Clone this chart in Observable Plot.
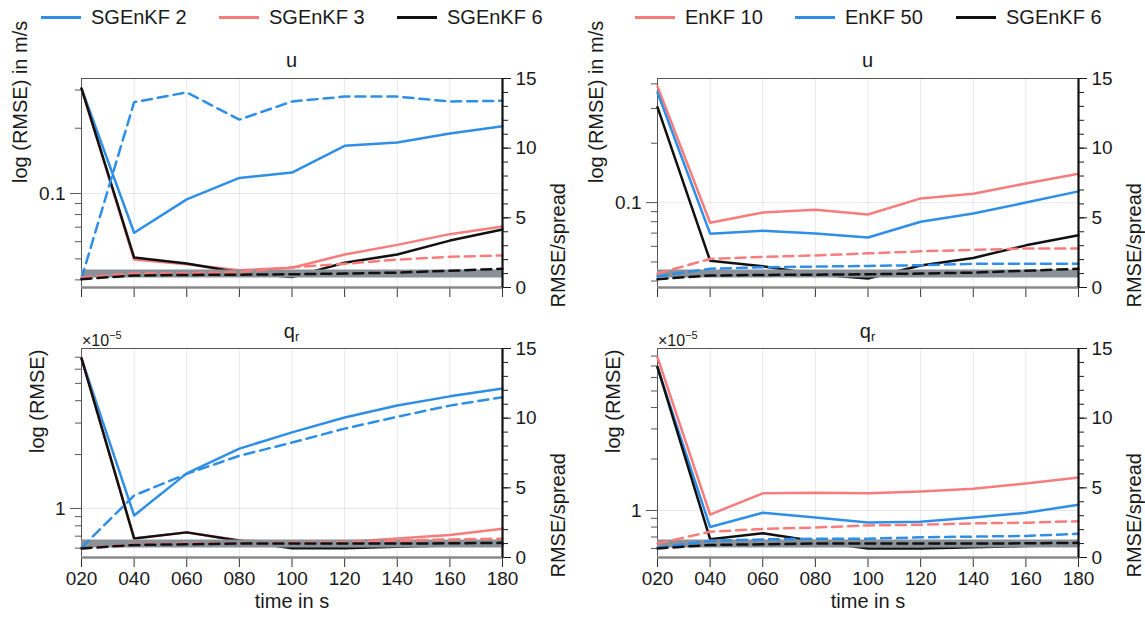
<!DOCTYPE html>
<html><head><meta charset="utf-8">
<script src="https://cdn.jsdelivr.net/npm/d3@7"></script>
<script src="https://cdn.jsdelivr.net/npm/@observablehq/plot@0.6"></script>
<style>
html,body{margin:0;padding:0;background:#fff;overflow:hidden}
#wrap{position:relative;width:1145px;height:621px;overflow:hidden;font-family:"Liberation Sans",Arial,Helvetica,sans-serif;color:#1a1a1a}
#wrap>svg{position:absolute;left:0;top:0}
.t{position:absolute;white-space:nowrap;line-height:24px}
.sw{position:absolute;height:3px}
</style></head><body><div id="wrap"></div>
<script>
// ---------- data ----------
const times = [20, 40, 60, 80, 100, 120, 140, 160, 180];
const timeLabels = ["020","040","060","080","100","120","140","160","180"];

// u : RMSE (m/s) and RMSE/spread
const uSG2rmse   = [0.305, 0.066, 0.094, 0.118, 0.125, 0.166, 0.172, 0.189, 0.204];
const uSG2ratio  = [0.65, 13.3, 14.0, 12.05, 13.35, 13.7, 13.7, 13.35, 13.4];
const uSG3rmse   = [0.305, 0.0496, 0.0472, 0.0443, 0.0455, 0.0524, 0.058, 0.065, 0.0705];
const uSG3ratio  = [0.72, 1.0, 1.03, 1.1, 1.45, 1.7, 2.0, 2.2, 2.3];
const uSG6rmse   = [0.305, 0.0507, 0.0476, 0.0433, 0.0412, 0.048, 0.0524, 0.0607, 0.0683];
const uSG6ratio  = [0.6, 0.86, 0.9, 0.92, 0.95, 1.0, 1.07, 1.2, 1.35];
const uEn10rmse  = [0.388, 0.079, 0.089, 0.092, 0.087, 0.105, 0.111, 0.125, 0.140];
const uEn10ratio = [1.0, 2.05, 2.2, 2.3, 2.45, 2.6, 2.7, 2.8, 2.8];
const uEn50rmse  = [0.362, 0.0696, 0.072, 0.0697, 0.0665, 0.080, 0.088, 0.100, 0.114];
const uEn50ratio = [0.8, 1.35, 1.45, 1.5, 1.55, 1.6, 1.7, 1.7, 1.7];

// q_r : RMSE (x 1e-5) and RMSE/spread
const qSG2rmse   = [6.89, 0.914, 1.57, 2.16, 2.66, 3.22, 3.76, 4.23, 4.68];
const qSG2ratio  = [0.7, 4.45, 6.0, 7.3, 8.25, 9.25, 10.1, 10.9, 11.5];
const qSG3rmse   = [6.95, 0.68, 0.735, 0.665, 0.64, 0.65, 0.68, 0.71, 0.77];
const qSG3ratio  = [0.65, 0.95, 1.0, 1.0, 1.05, 1.1, 1.2, 1.3, 1.35];
const qSG6rmse   = [6.9, 0.68, 0.735, 0.66, 0.6, 0.6, 0.61, 0.62, 0.63];
const qSG6ratio  = [0.65, 0.9, 0.95, 1.0, 1.0, 1.0, 1.0, 1.02, 1.05];
const qEn10rmse  = [7.85, 0.947, 1.26, 1.27, 1.26, 1.29, 1.34, 1.44, 1.56];
const qEn10ratio = [1.0, 1.85, 2.05, 2.15, 2.3, 2.35, 2.45, 2.5, 2.6];
const qEn50rmse  = [6.86, 0.80, 0.97, 0.91, 0.85, 0.86, 0.91, 0.97, 1.08];
const qEn50ratio = [0.7, 1.2, 1.3, 1.35, 1.35, 1.45, 1.5, 1.55, 1.7];

const ratioMajor = [0, 5, 10, 15];
const ratioMinor = d3.range(0, 16);
const uLogMinor = [0.04, 0.05, 0.06, 0.07, 0.08, 0.09, 0.2, 0.3, 0.4];
const qLogMinor = [0.6, 0.7, 0.8, 0.9, 2, 3, 4, 5, 6, 7, 8, 9];

// ---------- styling / layout ----------
const BLUE = "#2f8fe6", RED = "#f77d7d", BLACK = "#111111", GRAYBAND = "#8b9198";
const FONT = '"Liberation Sans", Arial, Helvetica, sans-serif';
const W = 1145, H = 621;

const panels = [
  {frame:[81, 78, 502, 287], domain:[0.0369, 0.339], minor:uLogMinor, major:0.1, majorLabel:"0.1",
   ylabel:"log (RMSE) in m/s", ylabelX:20, showX:false,
   series:[{r:uSG2rmse, s:uSG2ratio, c:BLUE},{r:uSG3rmse, s:uSG3ratio, c:RED},{r:uSG6rmse, s:uSG6ratio, c:BLACK}]},
  {frame:[657, 78, 1078, 287], domain:[0.0371, 0.426], minor:uLogMinor, major:0.1, majorLabel:"0.1",
   ylabel:"log (RMSE) in m/s", ylabelX:596, showX:false,
   series:[{r:uEn10rmse, s:uEn10ratio, c:RED},{r:uEn50rmse, s:uEn50ratio, c:BLUE},{r:uSG6rmse, s:uSG6ratio, c:BLACK}]},
  {frame:[81, 348, 502, 557], domain:[0.532, 7.83], minor:qLogMinor, major:1, majorLabel:"1",
   ylabel:"log (RMSE)", ylabelX:37, showX:true,
   series:[{r:qSG2rmse, s:qSG2ratio, c:BLUE},{r:qSG3rmse, s:qSG3ratio, c:RED},{r:qSG6rmse, s:qSG6ratio, c:BLACK}]},
  {frame:[657, 348, 1078, 557], domain:[0.531, 8.86], minor:qLogMinor, major:1, majorLabel:"1",
   ylabel:"log (RMSE)", ylabelX:613, showX:true,
   series:[{r:qEn10rmse, s:qEn10ratio, c:RED},{r:qEn50rmse, s:qEn50ratio, c:BLUE},{r:qSG6rmse, s:qSG6ratio, c:BLACK}]}
];

const wrap = document.getElementById("wrap");

function common(p) {
  const [L, T, R, B] = p.frame;
  return {width: W, height: H, marginLeft: L, marginTop: T, marginRight: W - R, marginBottom: H - B,
    style: {background: "transparent", fontFamily: FONT, fontSize: "19px", color: "#1a1a1a", overflow: "visible"}};
}

for (const p of panels) {
  const [L, T, R, B] = p.frame;
  const dom = p.domain;
  const minor = p.minor.filter(v => v > dom[0] && v < dom[1]);
  // log RMSE plot (left axis, solid lines)
  const logPlot = Plot.plot({
    ...common(p),
    x: {domain: [20, 180]},
    y: {type: "log", domain: dom},
    marks: [
      Plot.gridX(times, {stroke: "#000", strokeOpacity: 0.09}),
      Plot.gridY([p.major], {stroke: "#000", strokeOpacity: 0.09}),
      Plot.frame({stroke: "#555", strokeWidth: 1}),
      Plot.axisY(minor, {anchor: "left", tickSize: 6, tickFormat: () => "", label: null, stroke: "#555"}),
      Plot.axisY([p.major], {anchor: "left", tickSize: 11, tickPadding: 5, tickFormat: () => p.majorLabel, label: null, stroke: "#555"}),
      Plot.axisX(times, {anchor: "bottom", tickSize: 10, tickPadding: 4, stroke: "#333",
        tickFormat: p.showX ? (d => timeLabels[times.indexOf(d)]) : (() => ""), label: null}),
      ...p.series.map(s => Plot.line(s.r, {x: (d, i) => times[i], y: d => d, stroke: s.c, strokeWidth: 2.5})),
      Plot.text([p.ylabel], {frameAnchor: "left", dx: p.ylabelX - L, rotate: -90, fontSize: 20, text: d => d}),
      ...(p.showX ? [Plot.text(["time in s"], {frameAnchor: "bottom", dy: 50, fontSize: 20, text: d => d})] : [])
    ]
  });
  wrap.appendChild(logPlot);

  // RMSE/spread plot (right axis, dashed lines)
  const ratioPlot = Plot.plot({
    ...common(p),
    x: {domain: [20, 180], axis: null},
    y: {domain: [0, 15]},
    marks: [
      Plot.ruleY([1], {stroke: GRAYBAND, strokeWidth: 8}),
      ...p.series.map(s => Plot.line(s.s, {x: (d, i) => times[i], y: d => d, stroke: s.c, strokeWidth: 2.5, strokeDasharray: "10,6"})),
      Plot.ruleY([0], {stroke: "#888", strokeWidth: 2.5}),
      Plot.ruleX([180], {stroke: "#111", strokeWidth: 2.2}),
      Plot.axisY(ratioMinor, {anchor: "right", tickSize: 5, tickFormat: () => "", label: null}),
      Plot.axisY(ratioMajor, {anchor: "right", tickSize: 8, tickPadding: 5, label: null}),
      Plot.text(["RMSE/spread"], {frameAnchor: "right", dx: 56, rotate: -90, fontSize: 20, text: d => d})
    ]
  });
  wrap.appendChild(ratioPlot);
}

// ---------- titles and legends (HTML text) ----------
function addText(html, left, top, size, extra = "") {
  const d = document.createElement("div");
  d.className = "t";
  d.style.cssText = `left:${left}px;top:${top}px;font-size:${size}px;${extra}`;
  d.innerHTML = html;
  wrap.appendChild(d);
  return d;
}
function addCentered(html, cx, cy, size) {
  return addText(html, cx - 100, cy - 12, size, "width:200px;text-align:center;");
}
addCentered("u", 291.5, 60, 20);
addCentered("u", 867.5, 60, 20);
addCentered("q<sub style='font-size:13px;vertical-align:-3px'>r</sub>", 291.5, 331, 20);
addCentered("q<sub style='font-size:13px;vertical-align:-3px'>r</sub>", 867.5, 331, 20);
addText("×10<sup style='font-size:11px;vertical-align:7px'>−5</sup>", 82, 323, 16);
addText("×10<sup style='font-size:11px;vertical-align:7px'>−5</sup>", 658, 323, 16);

const legends = [
  {names: ["SGEnKF 2", "SGEnKF 3", "SGEnKF 6"], colors: [BLUE, RED, BLACK], x: [41, 219, 397]},
  {names: ["EnKF 10", "EnKF 50", "SGEnKF 6"], colors: [RED, BLUE, BLACK], x: [635, 795, 956]}
];
for (const lg of legends) {
  lg.names.forEach((n, i) => {
    const s = document.createElement("div");
    s.className = "sw";
    s.style.cssText = `left:${lg.x[i]}px;top:16px;width:40px;background:${lg.colors[i]}`;
    wrap.appendChild(s);
    addText(n, lg.x[i] + 50, 5, 20);
  });
}
</script></body></html>
